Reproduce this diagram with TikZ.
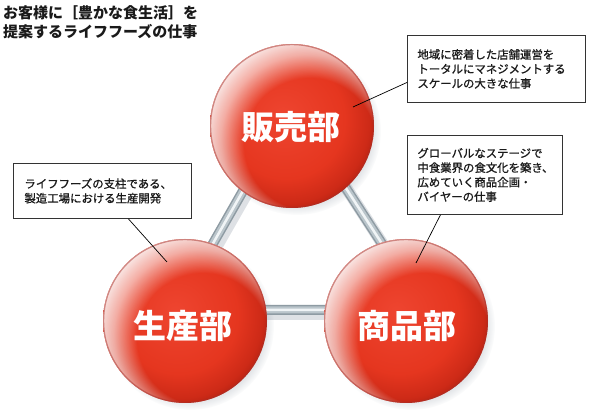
\documentclass[tikz,border=0pt]{standalone}
\usepackage{fontspec}
\newfontfamily\jp{Noto Sans CJK JP}
\newfontfamily\jpm{Noto Sans CJK JP}[FakeBold=1]
\usetikzlibrary{fadings}
\definecolor{redA}{HTML}{EE4530}
\definecolor{redB}{HTML}{E5361F}
\definecolor{redC}{HTML}{CD2A17}
\definecolor{redD}{HTML}{A21B0E}
\definecolor{rimC}{HTML}{A8302A}
\definecolor{rodDark}{HTML}{8E9BA3}
\definecolor{rodMid}{HTML}{BAC5CB}
\definecolor{rodLight}{HTML}{F0F4F6}
\definecolor{shadowC}{HTML}{7D8A98}
\definecolor{boxLine}{HTML}{333333}
\definecolor{txt}{HTML}{1A1A1A}
\pgfdeclareradialshading{sphereshade}{\pgfpoint{-3bp}{3bp}}{color(0bp)=(redA); color(18bp)=(redB); color(25bp)=(redC); color(30bp)=(redD); color(50bp)=(redD)}
\pgfdeclareradialshading{rimshade}{\pgfpoint{9bp}{-9bp}}{color(0bp)=(pgftransparent!100); color(20bp)=(pgftransparent!100); color(26bp)=(pgftransparent!40); color(31bp)=(pgftransparent!5); color(50bp)=(pgftransparent!5)}
\pgfdeclarefading{rimfade}{\pgfuseshading{rimshade}}
\begin{document}
\begin{tikzpicture}[x=1pt,y=-1pt,
  sphere/.style={circle, minimum size=164pt, inner sep=0pt, shade, shading=sphereshade,
    path picture={\fill[white, path fading=rimfade] (path picture bounding box.center) circle (82pt);
                  \draw[rimC, line width=1.2pt, opacity=0.5] (path picture bounding box.center) circle (81.4pt);}},
  sphshadow/.style={fill=shadowC, opacity=0.4, path fading=circle with fuzzy edge 20 percent},
  rodshadow/.style={draw=shadowC, line width=12pt, opacity=0.25, line join=round},
  rodA/.style={draw=rodDark, line width=10pt, line join=round},
  rodB/.style={draw=rodMid, line width=7pt, line join=round},
  rodC/.style={draw=rodLight, line width=2.5pt, line join=round},
  spheretext/.style={font=\jp\bfseries\fontsize{33}{33}\selectfont, text=white, inner sep=0pt},
  callout/.style={draw=boxLine, line width=0.9pt, fill=white, anchor=north west, align=left,
    font=\jpm\fontsize{11.4}{14.5}\selectfont, inner xsep=10pt, inner ysep=0pt, text=txt},
  conn/.style={draw=black, line width=0.7pt}
]
\useasboundingbox (0,0) rectangle (595,419);
\fill[white] (0,0) rectangle (595,419);

% coordinates
\coordinate (sA) at (292,126);
\coordinate (sL) at (185,321);
\coordinate (sR) at (406,321);
\coordinate (rT) at (292,105);
\coordinate (rL) at (175,310);
\coordinate (rR) at (425,310);

% rod shadows and sphere shadows
\draw[rodshadow] ([shift={(3pt,-4pt)}]rT) -- ([shift={(3pt,-4pt)}]rL) -- ([shift={(3pt,-4pt)}]rR) -- cycle;
\fill[sphshadow] ([shift={(5pt,-5pt)}]sA) circle (84pt);
\fill[sphshadow] ([shift={(5pt,-5pt)}]sL) circle (84pt);
\fill[sphshadow] ([shift={(5pt,-5pt)}]sR) circle (84pt);

% rods
\draw[rodA] (rT) -- (rL) -- (rR) -- cycle;
\draw[rodB] (rT) -- (rL) -- (rR) -- cycle;
\draw[rodC] (rT) -- (rL) -- (rR) -- cycle;

% spheres
\node[sphere] (hanbai) at (sA) {};
\node[sphere] (seisan) at (sL) {};
\node[sphere] (shohin) at (sR) {};

\node[spheretext] (hanbaiT) at (291,127) {販売部};
\node[spheretext] (seisanT) at (183,326) {生産部};
\node[spheretext] (shohinT) at (406.5,326) {商品部};

% title
\node[anchor=north west, align=left, font=\jp\bfseries\fontsize{15}{19.5}\selectfont, text=txt, inner sep=0pt] (title) at (3,5)
  {お客様に［豊かな食生活］を\\提案するライフフーズの仕事};

% callouts
\node[callout, text width=158pt, minimum height=67pt] (b1) at (407,35)
  {地域に密着した店舗運営を\\トータルにマネジメントする\\スケールの大きな仕事};
\node[callout, text width=135pt, minimum height=79pt] (b2) at (407,135)
  {グローバルなステージで\\中食業界の食文化を築き、\\広めていく商品企画・\\バイヤーの仕事};
\node[callout, text width=156pt, inner xsep=11pt, minimum height=55pt] (b3) at (13,163)
  {ライフフーズの支柱である、\\製造工場における生産開発};

% connectors
\coordinate (p1) at (353,107);
\coordinate (p2) at (416,263);
\coordinate (p3) at (167,262);
\draw[conn] ([yshift=-13.5pt]b1.west) -- (p1);
\draw[conn] ([xshift=-44.5pt]b2.south) -- (p2);
\draw[conn] ([xshift=26pt]b3.south) -- (p3);
\end{tikzpicture}
\end{document}
